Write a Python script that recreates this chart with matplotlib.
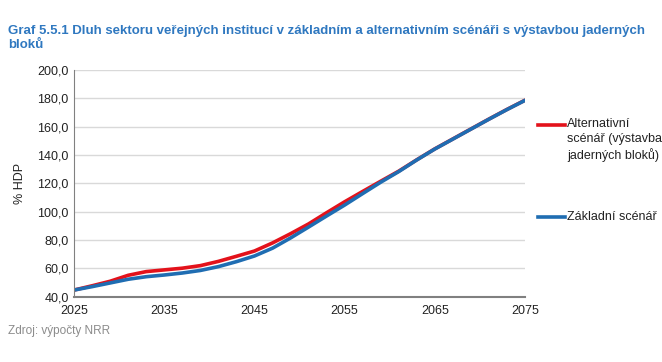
import matplotlib.pyplot as plt
from matplotlib.lines import Line2D

plt.rcParams['font.family'] = ['Liberation Sans', 'DejaVu Sans']

# data (% HDP)
years = [2025, 2027, 2029, 2031, 2033, 2035, 2037, 2039, 2041, 2043, 2045,
         2047, 2049, 2051, 2053, 2055, 2057, 2059, 2061, 2063, 2065, 2067,
         2069, 2071, 2073, 2075]
zakladni = [44.8, 47.2, 49.8, 52.4, 54.2, 55.4, 56.8, 58.6, 61.3, 64.8, 68.8,
            74.3, 81.5, 89.2, 97.0, 104.7, 112.8, 120.8, 128.3, 136.5, 144.2,
            151.2, 158.2, 165.2, 172.0, 178.5]
alternativni = [44.8, 47.8, 51.0, 55.2, 57.8, 59.0, 60.2, 62.0, 65.0, 68.6, 72.3,
                78.0, 84.5, 91.4, 99.3, 107.0, 114.3, 121.5, 128.6, 136.6, 144.3,
                151.3, 158.3, 165.3, 172.1, 178.6]
xticks = [2025, 2035, 2045, 2055, 2065, 2075]
yticks = [40, 60, 80, 100, 120, 140, 160, 180, 200]
labels = ['Alternativní\nscénář (výstavba\njaderných bloků)', 'Základní scénář']

red = '#e3121b'
blue = '#1f6db2'

fig = plt.figure(figsize=(6.62, 3.62), dpi=100)
ax = fig.add_axes([0.112, 0.180, 0.681, 0.627])

ax.plot(years, alternativni, color=red, lw=2.6, solid_capstyle='round')
ax.plot(years, zakladni, color=blue, lw=2.6, solid_capstyle='round')

ax.set_xlim(2025, 2075)
ax.set_ylim(40, 200)
ax.set_xticks(xticks)
ax.set_yticks(yticks)
ax.set_yticklabels([('%.1f' % v).replace('.', ',') for v in yticks])
ax.tick_params(length=0, labelsize=9, colors='#222222', pad=4)
ax.tick_params(axis='x', pad=6)
ax.grid(axis='y', color='#d9d9d9', lw=1)
ax.set_axisbelow(True)
for s in ['top', 'right']:
    ax.spines[s].set_visible(False)
ax.spines['left'].set_color('#808080')
ax.spines['bottom'].set_color('#808080')
ax.spines['bottom'].set_linewidth(1.5)
ax.set_ylabel('% HDP', fontsize=9, color='#222222', labelpad=8)

# title
fig.text(0.012, 0.895, 'Graf 5.5.1 Dluh sektoru veřejných institucí v základním a alternativním scénáři s výstavbou jaderných\nbloků',
         fontsize=9.5, fontweight='bold', color='#2f78c0', va='center', linespacing=1.3)

# source
fig.text(0.012, 0.086, 'Zdroj: výpočty NRR', fontsize=8.5, color='#8c8c8c', va='center')

# legend
fig.add_artist(Line2D([538 / 662, 565 / 662], [1 - 125 / 362] * 2, color=red, lw=2.6))
fig.text(567 / 662, 1 - 118 / 362, labels[0], fontsize=9, color='#222222', va='top',
         linespacing=1.3)
fig.add_artist(Line2D([538 / 662, 565 / 662], [1 - 217 / 362] * 2, color=blue, lw=2.6))
fig.text(567 / 662, 1 - 217 / 362, labels[1], fontsize=9, color='#222222', va='center')

fig.savefig('out.png', dpi=100)
